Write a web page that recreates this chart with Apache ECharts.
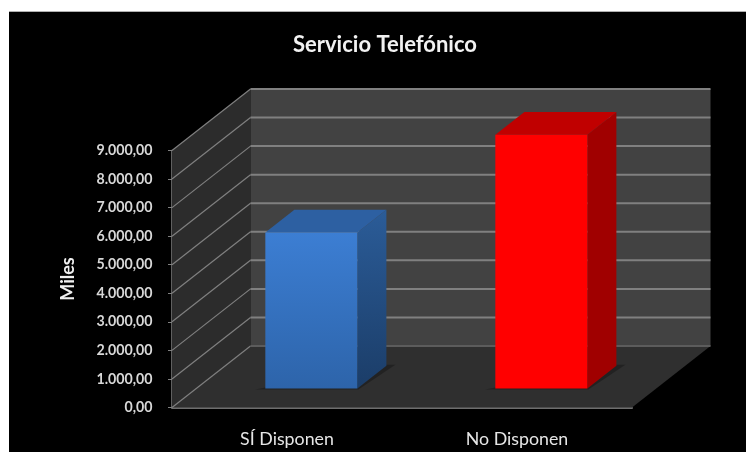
<!DOCTYPE html>
<html><head><meta charset="utf-8">
<style>
html,body{margin:0;padding:0;background:#fff;width:746px;height:452px;overflow:hidden}
#panel{position:absolute;left:9px;top:11px;width:737px;height:441px;background:#000;border-top:1px solid #b0b0b0;box-sizing:border-box}
#chart{position:absolute;left:0;top:0;width:746px;height:452px;filter:blur(0.6px)}
</style>
<script src="https://cdn.jsdelivr.net/npm/echarts@6/dist/echarts.min.js"></script>
</head><body>
<div id="panel"></div><div id="chart"></div>
<script>
const titleText = 'Servicio Telefónico';
const axisName = 'Miles';
const categories = ['SÍ Disponen', 'No Disponen'];
const values = [5460, 8880];
const tickValues = [0, 1000, 2000, 3000, 4000, 5000, 6000, 7000, 8000, 9000];
const tickLabels = ['0,00', '1.000,00', '2.000,00', '3.000,00', '4.000,00', '5.000,00', '6.000,00', '7.000,00', '8.000,00', '9.000,00'];

const DX = 78.5, DY = -61.5;
const barStyles = [
  { front: ['#3c7ed3', '#2d64aa'], side: ['#2b5c98', '#1b3d68'], top: '#2d60a2', r: 6 },
  { front: ['#ff0000', '#ff0000'], side: ['#a00000', '#a00000'], top: '#c00000', r: 2 }
];
const grad = (c) => new echarts.graphic.LinearGradient(0, 0, 0, 1, [{ offset: 0, color: c[0] }, { offset: 1, color: c[1] }]);
const poly = (points, fill, z2) => ({ type: 'polygon', z2: z2 || 0, shape: { points }, style: { fill } });
const line = (pts, stroke, w) => ({ type: 'polyline', z2: 2, shape: { points: pts }, style: { fill: 'none', stroke, lineWidth: w } });

function renderWalls(params, api) {
  const cs = params.coordSys;
  const L = cs.x, R = cs.x + cs.width, T = cs.y, B = cs.y + cs.height;
  const y = api.coord([0, api.value(0)])[1];
  const children = [];
  if (params.dataIndex === 0) {
    children.push(poly([[L, B], [L, T], [L + DX, T + DY], [L + DX, B + DY]], '#2c2c2c'));
    children.push(poly([[L + DX, T + DY], [R + DX, T + DY], [R + DX, B + DY], [L + DX, B + DY]], '#424242'));
    children.push(poly([[L, B], [R, B], [R + DX, B + DY], [L + DX, B + DY]], '#2f2f2f', 1));
  }
  children.push(line([[L, y], [L + DX, y + DY]], '#808080', 1.2));
  children.push(line([[L + DX, y + DY], [R + DX, y + DY]], params.dataIndex === 0 ? '#5c5c5c' : '#808080', 2));
  return { type: 'group', children };
}

function renderBar(params, api) {
  const s = barStyles[params.dataIndex];
  const band = api.size([1, 0])[0];
  const w = band * 0.4;
  const c = api.coord([api.value(0), api.value(1)]);
  const base = api.coord([api.value(0), 0]);
  const fx = 0.31, dd = 0.37;
  const x0 = c[0] - w / 2 + DX * fx, x1 = x0 + w;
  const yT = c[1] + DY * fx, yB = base[1] + DY * fx;
  const ox = DX * dd, oy = DY * dd;
  return { type: 'group', children: [
    poly([[x0 - 10, yB + 1], [x1 + 1, yB + 1], [x1 + ox + 9, yB + oy - 1], [x1 + ox - 4, yB + oy - 1]], '#222222'),
    poly([[x1, yT], [x1 + ox, yT + oy], [x1 + ox, yB + oy], [x1, yB]], grad(s.side), 1),
    poly([[x0, yT], [x0 + ox, yT + oy], [x1 + ox, yT + oy], [x1, yT]], s.top, 1),
    { type: 'rect', z2: 2, shape: { x: x0, y: yT, width: w, height: yB - yT }, style: { fill: grad(s.front) } }
  ] };
}

const chart = echarts.init(document.getElementById('chart'), null, { renderer: 'canvas' });
chart.setOption({
  animation: false,
  backgroundColor: 'transparent',
  title: {
    text: titleText, left: 380, top: 29, textAlign: 'center',
    textStyle: { color: '#f2f2f2', fontFamily: 'Lato', fontWeight: 'bold', fontSize: 22 }
  },
  grid: { left: 172, top: 150.5, width: 460, height: 257, containLabel: false },
  xAxis: {
    type: 'category', data: categories, boundaryGap: true,
    axisTick: { show: false },
    axisLine: { lineStyle: { color: '#6e6e6e', width: 2 } },
    axisLabel: { color: '#e6e6e6', fontFamily: 'Lato', fontSize: 17.8, margin: 23 }
  },
  yAxis: {
    type: 'value', min: 0, max: 9000, interval: 1000,
    name: axisName, nameLocation: 'middle', nameGap: 95, nameRotate: 90,
    nameTextStyle: { color: '#f0f0f0', fontFamily: 'Lato', fontWeight: 'bold', fontSize: 18 },
    splitLine: { show: false },
    axisLine: { show: true, lineStyle: { color: '#808080', width: 1.5 } },
    axisTick: { show: true, length: 4, lineStyle: { color: '#808080' } },
    axisLabel: {
      color: '#d8d8d8', fontFamily: 'Lato', fontWeight: 'bold', fontSize: 14.2, margin: 19.5,
      padding: [6, 0, 0, 0],
      formatter: (v) => tickLabels[tickValues.indexOf(v)]
    }
  },
  series: [
    { type: 'custom', z: 1, silent: true, clip: false, coordinateSystem: 'cartesian2d',
      encode: { y: 0 }, data: tickValues.map(v => [v]), renderItem: renderWalls },
    { type: 'custom', z: 3, silent: true, clip: false, coordinateSystem: 'cartesian2d',
      encode: { x: 0, y: 1 }, data: categories.map((c, i) => [i, values[i]]), renderItem: renderBar }
  ]
});
</script>
</body></html>
